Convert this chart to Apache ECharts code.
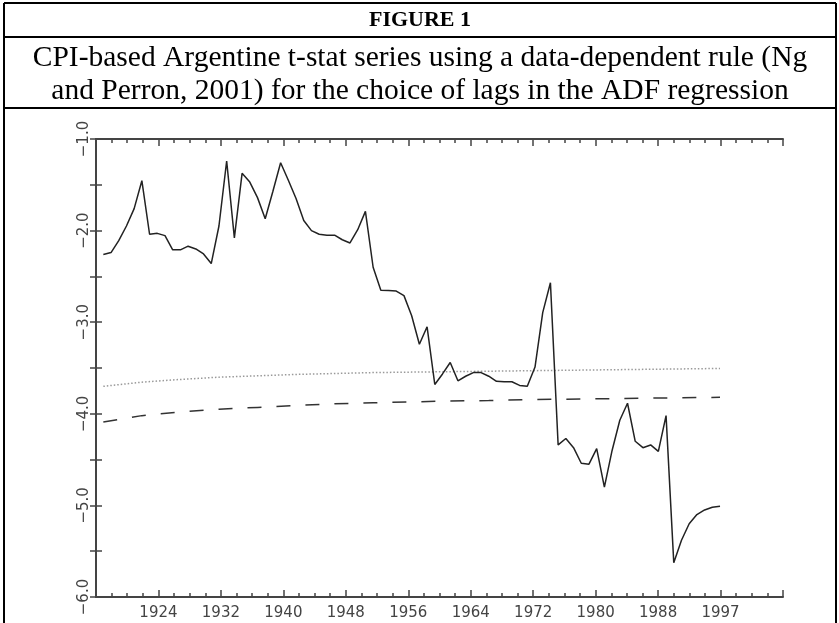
<!DOCTYPE html>
<html lang="en">
	<head>
		<meta charset="UTF-8" />
		<title>Figure 1</title>
		<style>
			body {
				margin: 0;
				padding: 0;
				background: #fff;
			}
			.chart {
				width: 839px;
				height: 623px;
			}
		</style>
	</head>
	<body>
		<div class="chart"></div>
		<script src="https://cdn.jsdelivr.net/npm/echarts/dist/echarts.min.js"></script>
		<script>
			// t-stat series, one value per year
			const years = [
				1917, 1918, 1919, 1920, 1921, 1922, 1923, 1924, 1925, 1926,
				1927, 1928, 1929, 1930, 1931, 1932, 1933, 1934, 1935, 1936,
				1937, 1938, 1939, 1940, 1941, 1942, 1943, 1944, 1945, 1946,
				1947, 1948, 1949, 1950, 1951, 1952, 1953, 1954, 1955, 1956,
				1957, 1958, 1959, 1960, 1961, 1962, 1963, 1964, 1965, 1966,
				1967, 1968, 1969, 1970, 1971, 1972, 1973, 1974, 1975, 1976,
				1977, 1978, 1979, 1980, 1981, 1982, 1983, 1984, 1985, 1986,
				1987, 1988, 1989, 1990, 1991, 1992, 1993, 1994, 1995, 1996,
				1997
			];
			const tstat = [
				-2.26, -2.24, -2.11, -1.95, -1.76, -1.455, -2.04, -2.03, -2.055, -2.21,
				-2.21, -2.17, -2.2, -2.255, -2.36, -1.95, -1.24, -2.08, -1.375, -1.47,
				-1.64, -1.87, -1.57, -1.26, -1.45, -1.65, -1.89, -2.0, -2.04, -2.05,
				-2.05, -2.1, -2.135, -1.99, -1.79, -2.4, -2.65, -2.655, -2.66, -2.71,
				-2.93, -3.24, -3.05, -3.68, -3.565, -3.44, -3.64, -3.59, -3.55, -3.55,
				-3.59, -3.645, -3.65, -3.65, -3.69, -3.7, -3.49, -2.895, -2.57, -4.34,
				-4.27, -4.37, -4.54, -4.55, -4.38, -4.8, -4.4, -4.07, -3.885, -4.3,
				-4.37, -4.34, -4.41, -4.02, -5.625, -5.38, -5.2, -5.1, -5.05, -5.02,
				-5.01
			];
			// critical value curves
			const critYears = [1917, 1922, 1927, 1932, 1937, 1942, 1947, 1952, 1957, 1962, 1967, 1972, 1977, 1982, 1987, 1992, 1997];
			const dotted = [-3.7, -3.655, -3.625, -3.6, -3.585, -3.57, -3.56, -3.55, -3.545, -3.54, -3.535, -3.53, -3.525, -3.52, -3.515, -3.51, -3.505];
			const dashed = [-4.09, -4.02, -3.98, -3.95, -3.93, -3.91, -3.89, -3.88, -3.87, -3.86, -3.855, -3.845, -3.84, -3.835, -3.83, -3.825, -3.82];
			// bottom tick labels, one per 8-step tick
			const tickLabels = ['', '1924', '1932', '1940', '1948', '1956', '1964', '1972', '1980', '1988', '1997', ''];

			const pair = (xs, ys) => xs.map((x, i) => [x, ys[i]]);

			const frameLine = { lineStyle: { color: '#444', width: 2 } };
			const tickStyle = { color: '#444', width: 1.5 };
			const labelFont = { fontFamily: 'DejaVu Sans', fontSize: 15, color: '#444' };
			const border = (x1, y1, x2, y2) => ({
				type: 'line',
				shape: { x1, y1, x2, y2 },
				style: { stroke: '#000', lineWidth: 2 }
			});

			const chart = echarts.init(document.querySelector('.chart'));
			const option = {
				animation: false,
				backgroundColor: '#fff',
				grid: { left: 96, top: 139, right: 56, bottom: 26 },
				graphic: [
					border(4, 3, 836, 3),
					border(4, 37, 836, 37),
					border(4, 108, 836, 108),
					border(4, 3, 4, 623),
					border(836, 3, 836, 623),
					{
						type: 'text', x: 420, y: 20,
						style: { text: 'FIGURE 1', font: 'bold 22px "Liberation Serif"', fill: '#000', align: 'center', verticalAlign: 'middle' }
					},
					{
						type: 'text', x: 420, y: 58,
						style: { text: 'CPI-based Argentine t-stat series using a data-dependent rule (Ng', font: '29.5px "Liberation Serif"', fill: '#000', align: 'center', verticalAlign: 'middle' }
					},
					{
						type: 'text', x: 420, y: 91,
						style: { text: 'and Perron, 2001) for the choice of lags in the ADF regression', font: '29.5px "Liberation Serif"', fill: '#000', align: 'center', verticalAlign: 'middle' }
					}
				],
				xAxis: [
					{
						type: 'value', position: 'bottom', min: 0, max: 88, interval: 8,
						axisLine: frameLine,
						axisTick: { inside: true, length: 7, lineStyle: tickStyle },
						minorTick: { show: true, splitNumber: 4, length: 4, lineStyle: tickStyle },
						splitLine: { show: false },
						axisLabel: Object.assign({ margin: 9, formatter: v => tickLabels[Math.round(v / 8)] }, labelFont)
					},
					{
						type: 'value', position: 'top', min: 0, max: 88, interval: 8,
						axisLine: frameLine,
						axisTick: { inside: true, length: 7, lineStyle: tickStyle },
						minorTick: { show: true, splitNumber: 4, length: 4, lineStyle: tickStyle },
						splitLine: { show: false },
						axisLabel: { show: false }
					},
					{
						// data axis (years), hidden
						type: 'value', show: false, min: 1916.05, max: 2005.17
					}
				],
				yAxis: [
					{
						type: 'value', position: 'left', min: -6, max: -1, interval: 0.5,
						axisLine: frameLine,
						axisTick: { inside: true, length: 6, lineStyle: tickStyle },
						splitLine: { show: false },
						axisLabel: Object.assign({
							rotate: 90, margin: 4,
							formatter: v => Number.isInteger(v) ? '\u2212' + Math.abs(v).toFixed(1) : ''
						}, labelFont)
					},
					{
						type: 'value', position: 'right', min: -6, max: -1, interval: 0.5,
						axisLine: frameLine,
						axisTick: { inside: true, length: 6, lineStyle: tickStyle },
						splitLine: { show: false },
						axisLabel: { show: false }
					}
				],
				series: [
					{
						type: 'line', xAxisIndex: 2, yAxisIndex: 0,
						data: pair(critYears, dotted),
						showSymbol: false,
						lineStyle: { color: '#999', width: 1.5, type: [1.5, 2] }
					},
					{
						type: 'line', xAxisIndex: 2, yAxisIndex: 0,
						data: pair(critYears, dashed),
						showSymbol: false,
						lineStyle: { color: '#333', width: 1.5, type: [14, 15] }
					},
					{
						type: 'line', xAxisIndex: 2, yAxisIndex: 0,
						data: pair(years, tstat),
						showSymbol: false,
						lineStyle: { color: '#222', width: 1.5 }
					}
				]
			};
			chart.setOption(option);
		</script>
	</body>
</html>
